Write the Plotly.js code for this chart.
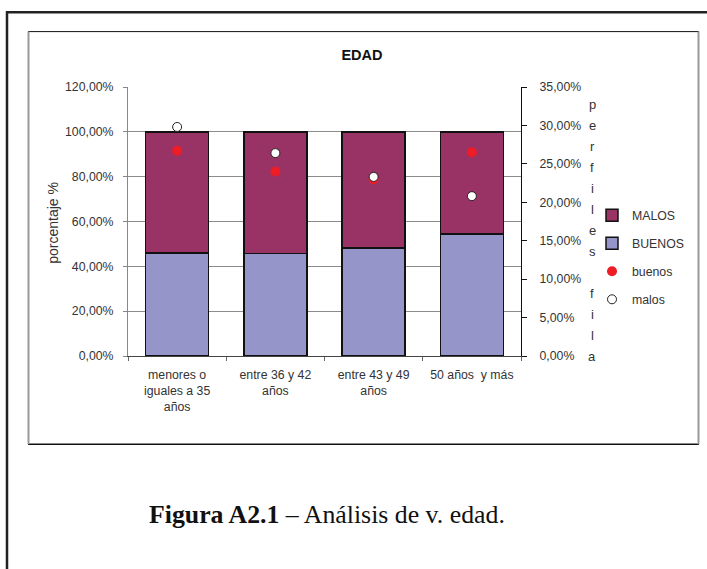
<!DOCTYPE html>
<html>
<head>
<meta charset="utf-8">
<script src="https://cdn.plot.ly/plotly-3.0.1.min.js"></script>
<style>
html,body{margin:0;padding:0;background:#fff;}
#chart{width:707px;height:569px;}
</style>
</head>
<body>
<div id="chart"></div>
<script>
// ---- data ----
const categories = ["menores o<br>iguales a 35<br>años", "entre 36 y 42<br>años", "entre 43 y 49<br>años", "50 años  y más"];
const buenosPct = [45.9, 45.7, 48.1, 54.5];      // BUENOS bar (left axis, %)
const malosPct  = [54.1, 54.3, 51.9, 45.5];      // MALOS bar (left axis, %)
const perfilBuenos = [26.7, 24.0, 23.0, 26.5];   // buenos points (right axis, %)
const perfilMalos  = [29.8, 26.4, 23.3, 20.8];   // malos points (right axis, %)
const rightTitle = "perfiles fila";

// ---- layout helpers ----
const W = 707, H = 569, L = 128, R = 521, T = 87, B = 356.5;
const px = p => (p - L) / (R - L);
const py = p => (B - p) / (B - T);
const FONT = '"Liberation Sans", Arial, sans-serif';
const TXT = '#333333';
const FS = 12.3;

const traces = [
  {type:'bar', name:'BUENOS', x:categories, y:buenosPct, width:0.64,
   marker:{color:'#9595c9', line:{color:'#111', width:1.5}},
   legendgroup:'b', legendrank:2, hoverinfo:'skip'},
  {type:'bar', name:'MALOS', x:categories, y:malosPct, width:0.64,
   marker:{color:'#993366', line:{color:'#111', width:1.5}},
   legendgroup:'m', legendrank:1, hoverinfo:'skip'},
  {type:'scatter', mode:'markers', name:'buenos', x:categories, y:perfilBuenos, yaxis:'y2',
   marker:{color:'#ee1c25', size:10, line:{width:0}},
   legendgroup:'pb', legendrank:3},
  {type:'scatter', mode:'markers', name:'malos', x:categories, y:perfilMalos, yaxis:'y2',
   marker:{color:'#ffffff', size:9, line:{color:'#222', width:1}},
   legendgroup:'pm', legendrank:4}
];

const annotations = [
  {xref:'paper', yref:'paper', x:px(53), y:py(223), text:'porcentaje %', textangle:-90,
   showarrow:false, xanchor:'center', yanchor:'middle',
   font:{family:FONT, size:14, color:TXT}},
  {xref:'paper', yref:'paper', x:px(327), y:py(515), text:'<b>Figura A2.1</b> – Análisis de v. edad.',
   showarrow:false, xanchor:'center', yanchor:'middle',
   font:{family:'"Liberation Serif", "Times New Roman", serif', size:25.8, color:'#111'}}
];
rightTitle.split('').forEach((ch, i) => {
  if (ch === ' ') return;
  annotations.push({xref:'paper', yref:'paper', x:px(592), y:py(105 + 21*i), text:ch,
    showarrow:false, xanchor:'center', yanchor:'middle',
    font:{family:FONT, size:13, color:TXT}});
});

const shapes = [
  // outer page frame
  {type:'line', xref:'paper', yref:'paper', x0:px(7), x1:px(7), y0:py(11), y1:py(600), line:{color:'#222', width:2.5}},
  {type:'line', xref:'paper', yref:'paper', x0:px(6), x1:px(720), y0:py(12), y1:py(12), line:{color:'#222', width:2.5}},
  // chart frame
  {type:'line', xref:'paper', yref:'paper', x0:px(28), x1:px(699), y0:py(31.5), y1:py(31.5), line:{color:'#111', width:1}},
  {type:'line', xref:'paper', yref:'paper', x0:px(28), x1:px(699), y0:py(445), y1:py(445), line:{color:'#111', width:1.5}},
  {type:'line', xref:'paper', yref:'paper', x0:px(28.5), x1:px(28.5), y0:py(31.5), y1:py(445), line:{color:'#999', width:2}},
  {type:'line', xref:'paper', yref:'paper', x0:px(698.5), x1:px(698.5), y0:py(31.5), y1:py(445), line:{color:'#999', width:2}}
];

const layout = {
  width:W, height:H,
  margin:{l:L, r:W-R, t:T, b:H-B, pad:0},
  paper_bgcolor:'#fff', plot_bgcolor:'#fff',
  separators:',.',
  barmode:'stack',
  showlegend:true,
  font:{family:FONT, size:FS, color:TXT},
  title:{text:'<b>EDAD</b>', xref:'container', yref:'container', x:362/W, y:1-55/H,
         xanchor:'center', yanchor:'middle', font:{family:FONT, size:14.5, color:'#111'}},
  xaxis:{type:'category', showline:true, linecolor:'#444', linewidth:1,
         ticks:'outside', tickson:'boundaries', ticklen:4, tickcolor:'#666', tickangle:0,
         ticklabelstandoff:7,
         showgrid:false, tickfont:{family:FONT, size:FS, color:TXT}, fixedrange:true},
  yaxis:{range:[0,120], dtick:20, tickformat:'.2f', ticksuffix:'%',
         showline:true, linecolor:'#888', linewidth:1,
         ticks:'outside', ticklen:4, tickcolor:'#888', ticklabelstandoff:7,
         showgrid:true, gridcolor:'#8c8c8c', gridwidth:1, zeroline:false,
         tickfont:{family:FONT, size:FS, color:TXT}, fixedrange:true},
  yaxis2:{range:[0,35], dtick:5, tickformat:'.2f', ticksuffix:'%', overlaying:'y', side:'right',
          showline:true, linecolor:'#111', linewidth:1,
          ticks:'outside', ticklen:5, tickcolor:'#111', ticklabelstandoff:10,
          showgrid:false, zeroline:false,
          tickfont:{family:FONT, size:FS, color:TXT}, fixedrange:true},
  legend:{x:px(592), y:py(201), xanchor:'left', yanchor:'top', traceorder:'grouped',
          tracegroupgap:9, bgcolor:'rgba(0,0,0,0)', borderwidth:0,
          font:{family:FONT, size:FS, color:TXT}},
  annotations:annotations,
  shapes:shapes
};

Plotly.newPlot('chart', traces, layout, {displayModeBar:false, staticPlot:true});
</script>
</body>
</html>
